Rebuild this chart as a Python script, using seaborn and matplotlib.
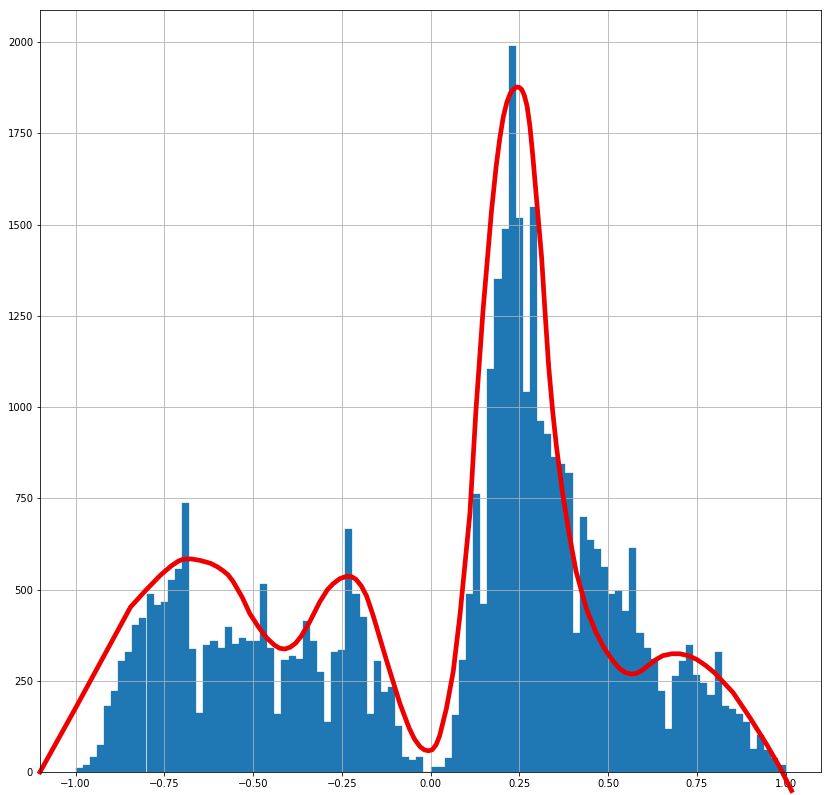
import numpy as np
import pandas as pd
import matplotlib
matplotlib.use("Agg")
import matplotlib.pyplot as plt
import seaborn as sns

# Histogram: 100 bins of width 0.02 from -1.00 to 1.00
bin_start = -1.0
bin_end = 1.0
n_bins = 100
counts = [
    10, 18, 42, 73, 180, 223, 305, 328, 402, 421,
    487, 457, 467, 525, 555, 736, 338, 163, 349, 360,
    341, 396, 352, 366, 358, 358, 514, 341, 158, 306,
    319, 309, 415, 360, 275, 138, 330, 333, 665, 487,
    424, 160, 303, 218, 234, 127, 42, 34, 40, 0,
    13, 14, 38, 155, 308, 489, 763, 459, 1105, 1350,
    1487, 1989, 1517, 1040, 1548, 963, 925, 862, 843, 818,
    380, 698, 635, 610, 561, 487, 495, 440, 615, 380,
    339, 309, 221, 119, 262, 303, 347, 265, 243, 210,
    328, 180, 174, 158, 138, 64, 102, 61, 37, 18,
]

# Red fitted curve
curve_x = [-1.10, -1.00, -0.93, -0.845, -0.80, -0.76, -0.73, -0.71, -0.697, -0.675,
           -0.65, -0.62, -0.60, -0.585, -0.57, -0.556, -0.53, -0.509, -0.485, -0.462,
           -0.44, -0.425, -0.41, -0.395, -0.38, -0.365, -0.34, -0.312, -0.29, -0.274,
           -0.255, -0.237, -0.222, -0.21, -0.195, -0.18, -0.162, -0.124, -0.086, -0.06,
           -0.045, -0.03, -0.018, -0.006, 0.005, 0.016, 0.026, 0.045, 0.064, 0.083,
           0.111, 0.128, 0.148, 0.172, 0.185, 0.195, 0.205, 0.215, 0.225, 0.235,
           0.243, 0.25, 0.257, 0.264, 0.272, 0.28, 0.288, 0.296, 0.305, 0.313,
           0.322, 0.333, 0.344, 0.355, 0.372, 0.39, 0.41, 0.439, 0.465, 0.49,
           0.515, 0.533, 0.55, 0.566, 0.58, 0.595, 0.615, 0.635, 0.655, 0.68,
           0.702, 0.725, 0.749, 0.775, 0.80, 0.852, 0.899, 0.946, 0.984, 1.017]
curve_y = [0, 175, 300, 452, 500, 540, 565, 578, 583, 584,
           580, 572, 562, 552, 540, 522, 478, 434, 398, 368,
           348, 339, 337, 342, 353, 371, 412, 466, 500, 516,
           530, 536, 535, 528, 510, 482, 430, 306, 187, 120,
           90, 70, 61, 58, 61, 75, 100, 175, 275, 430,
           708, 991, 1265, 1539, 1660, 1735, 1795, 1835, 1860, 1872,
           1877, 1876, 1870, 1855, 1825, 1770, 1690, 1600, 1500, 1410,
           1270, 1110, 990, 890, 765, 655, 550, 448, 385, 338,
           303, 283, 272, 268, 270, 278, 293, 308, 319, 324,
           324, 319, 309, 292, 272, 218, 150, 77, 13, -51]

x_ticks = [-1.00, -0.75, -0.50, -0.25, 0.00, 0.25, 0.50, 0.75, 1.00]
y_ticks = [0, 250, 500, 750, 1000, 1250, 1500, 1750, 2000]

edges = np.linspace(bin_start, bin_end, n_bins + 1)
centers = (edges[:-1] + edges[1:]) / 2
df = pd.DataFrame({"value": centers, "count": counts})

DPI = 72
fig = plt.figure(figsize=(831 / DPI, 795 / DPI), dpi=DPI)
ax = fig.add_axes([40 / 831, 23 / 795, 781 / 831, 762 / 795])

sns.histplot(data=df, x="value", weights="count",
             bins=n_bins, binrange=(bin_start, bin_end),
             ax=ax, color="#1f77b4", alpha=1.0, linewidth=0.3, edgecolor="#1f77b4")
sns.lineplot(x=curve_x, y=curve_y, ax=ax, color="#ee0000", linewidth=4.7,
             sort=False, estimator=None, clip_on=False)

ax.set_xlim(-1.1, 1.1)
ax.set_ylim(0, 2088)
ax.set_xticks(x_ticks)
ax.set_xticklabels([f"{t:.2f}".replace("-", "\u2212") for t in x_ticks])
ax.set_yticks(y_ticks)
ax.set_xlabel("")
ax.set_ylabel("")
ax.grid(True, color="#b0b0b0", linewidth=0.8)
ax.tick_params(labelsize=10)
for s in ax.spines.values():
    s.set_color("black")
    s.set_linewidth(0.8)

fig.savefig("out.png", dpi=DPI)
